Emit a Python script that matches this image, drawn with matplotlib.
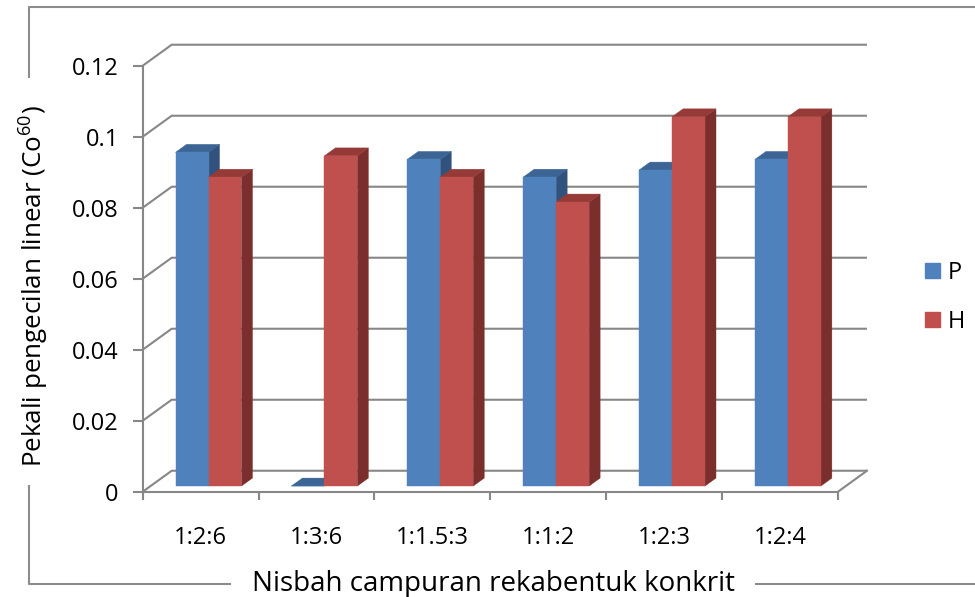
import matplotlib.pyplot as plt
from matplotlib.lines import Line2D
from matplotlib.patches import Patch, Polygon

categories = ["1:2:6", "1:3:6", "1:1.5:3", "1:1:2", "1:2:3", "1:2:4"]
series_names = ["P", "H"]
p_values = [0.094, 0.0, 0.092, 0.087, 0.089, 0.092]
h_values = [0.087, 0.093, 0.087, 0.080, 0.104, 0.104]
y_ticks = [0, 0.02, 0.04, 0.06, 0.08, 0.1, 0.12]
y_tick_labels = ["0", "0.02", "0.04", "0.06", "0.08", "0.1", "0.12"]

FONT = "Open Sans"
plt.rcParams["font.family"] = [FONT, "DejaVu Sans"]
plt.rcParams["mathtext.fontset"] = "custom"
plt.rcParams["mathtext.rm"] = FONT
plt.rcParams["mathtext.it"] = FONT

GRID = "#878787"
# face colours per series: front, top, side
COLORS = {
    "P": ("#4f81bd", "#3c6494", "#31527d"),
    "H": ("#c0504d", "#953a37", "#7b2f2d"),
}
# oblique depth of the plot floor, in data units (x: categories, y: value)
DX, DY = 0.25, 0.0059
BAR_W = 0.2845
TICK_FS = 17

fig = plt.figure(figsize=(9.75, 5.97), dpi=100)
ax = fig.add_axes([0.1464, 0.1764, 0.7131, 0.7136])
n = len(categories)
ax.set_xlim(0, n)
ax.set_ylim(0, 0.12)

# side wall + back wall gridlines, floor included at 0
for v in y_ticks:
    ax.plot([0, DX, n + DX], [v, v + DY, v + DY], color=GRID, lw=1.5,
            clip_on=False, zorder=1, solid_capstyle="butt")
ax.plot([n, n + DX], [0, DY], color=GRID, lw=1.5, clip_on=False, zorder=1)


def draw_box(x0, h, colors):
    front, top, side = colors
    # bars stand in the middle of the floor depth
    ox, oy = 0.27 * DX, 0.27 * DY
    bx, by = 0.38 * DX, 0.38 * DY
    x0 += ox
    x1 = x0 + BAR_W
    y0, y1 = oy, oy + h
    ax.add_patch(Polygon([(x1, y0), (x1 + bx, y0 + by), (x1 + bx, y1 + by), (x1, y1)],
                         closed=True, fc=side, ec=side, lw=0.3, clip_on=False, zorder=2))
    ax.add_patch(Polygon([(x0, y1), (x1, y1), (x1 + bx, y1 + by), (x0 + bx, y1 + by)],
                         closed=True, fc=top, ec=top, lw=0.3, clip_on=False, zorder=2))
    ax.add_patch(Polygon([(x0, y0), (x1, y0), (x1, y1), (x0, y1)],
                         closed=True, fc=front, ec=front, lw=0.3, clip_on=False, zorder=2))


for i in range(n):
    left = i + 0.5 - BAR_W
    draw_box(left, p_values[i], COLORS["P"])
    draw_box(left + BAR_W, h_values[i], COLORS["H"])

for side in ("top", "right"):
    ax.spines[side].set_visible(False)
for side in ("left", "bottom"):
    ax.spines[side].set_color(GRID)
    ax.spines[side].set_linewidth(1.5)
    ax.spines[side].set_zorder(3)

ax.set_yticks(y_ticks)
ax.set_yticklabels(y_tick_labels)
ax.tick_params(axis="y", direction="out", length=7.2, width=1.5, color=GRID,
               labelsize=TICK_FS, pad=10)
ax.set_xticks(range(n + 1))
ax.set_xticklabels([])
ax.set_xticks([i + 0.5 for i in range(n)], minor=True)
ax.set_xticklabels(categories, minor=True)
ax.tick_params(axis="x", which="major", direction="out", length=6, width=1.5, color=GRID)
ax.tick_params(axis="x", which="minor", length=0, labelsize=TICK_FS, pad=25)
ax.set_facecolor("none")

fig.text(34 / 975, 1 - 286 / 597, r"Pekali pengecilan linear (Co$^{60}$)",
         rotation=90, ha="center", va="center", fontsize=18.7)
fig.text(493 / 975, 1 - 584 / 597, "Nisbah campuran rekabentuk konkrit",
         ha="center", va="center", fontsize=20)

handles = [Patch(color=COLORS[s][0]) for s in series_names]
fig.legend(handles, series_names, loc="upper left",
           bbox_to_anchor=(925 / 975, 1 - 261 / 597), frameon=False,
           fontsize=TICK_FS, handlelength=0.62, handleheight=0.62,
           handletextpad=0.35, labelspacing=1.05, borderpad=0, borderaxespad=0)

# chart area frame, broken around the axis titles
frame = dict(color="#8c8c8c", lw=1.5, transform=fig.transFigure, clip_on=False)
fx = lambda px: px / 975
fy = lambda py: 1 - py / 597
fig.add_artist(Line2D([fx(29), fx(29), fx(975)], [fy(77), fy(7), fy(7)], **frame))
fig.add_artist(Line2D([fx(29), fx(29), fx(230)], [fy(486), fy(584), fy(584)], **frame))
fig.add_artist(Line2D([fx(756), fx(975)], [fy(584), fy(584)], **frame))

fig.savefig("out.png", dpi=100)
